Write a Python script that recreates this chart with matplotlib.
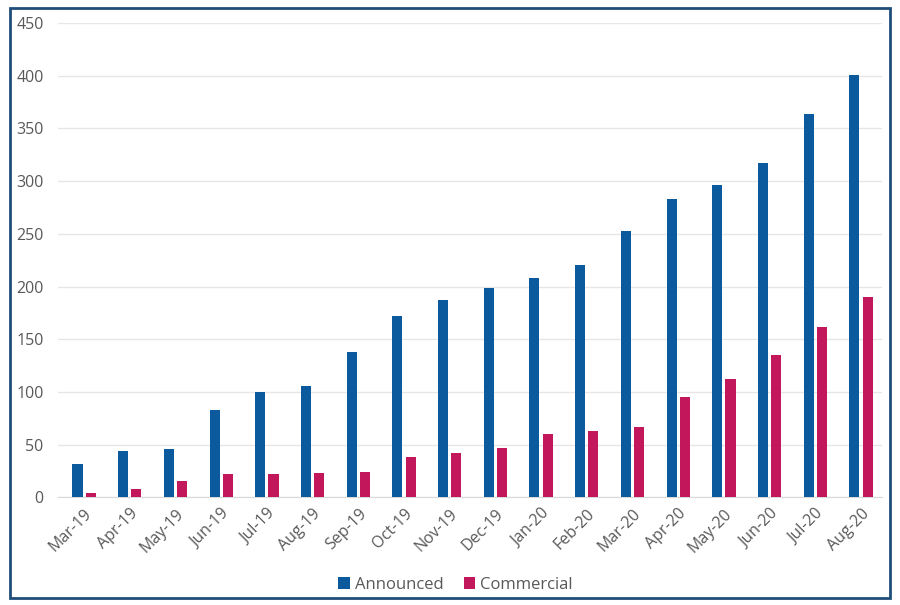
import matplotlib.pyplot as plt
import numpy as np
from matplotlib.patches import Rectangle

months = ["Mar-19", "Apr-19", "May-19", "Jun-19", "Jul-19", "Aug-19",
          "Sep-19", "Oct-19", "Nov-19", "Dec-19", "Jan-20", "Feb-20",
          "Mar-20", "Apr-20", "May-20", "Jun-20", "Jul-20", "Aug-20"]
announced = [32, 44, 46, 83, 100, 106, 138, 172, 187, 199, 208, 220,
             253, 283, 296, 317, 364, 401]
commercial = [4, 8, 15, 22, 22, 23, 24, 38, 42, 47, 60, 63,
              67, 95, 112, 135, 162, 190]

plt.rcParams['font.family'] = ['Open Sans', 'DejaVu Sans']
text_color = '#595959'

fig = plt.figure(figsize=(9, 6.05), dpi=100)
ax = fig.add_axes([0.064, 0.178, 0.916, 0.784])

x = np.arange(len(months))
w = 0.22
gap = 0.07
ax.bar(x - (w + gap) / 2, announced, width=w, color='#0b5a9e',
       label='Announced', zorder=3)
ax.bar(x + (w + gap) / 2, commercial, width=w, color='#c2185b',
       label='Commercial', zorder=3)

ax.set_xlim(-0.58, len(months) - 0.54)
ax.set_ylim(0, 450)
ax.set_yticks(range(0, 451, 50))
ax.yaxis.grid(True, color='#e6e6e6', linewidth=1, zorder=0)
ax.set_axisbelow(True)
for s in ['top', 'right', 'left']:
    ax.spines[s].set_visible(False)
ax.spines['bottom'].set_color('#d9d9d9')
ax.tick_params(axis='both', length=0, colors=text_color, labelsize=11.5)
ax.tick_params(axis='y', pad=10)
ax.tick_params(axis='x', pad=6)
ax.set_xticks(x)
ax.set_xticklabels(months, rotation=45, ha='right', rotation_mode='anchor')

leg = ax.legend(loc='center', bbox_to_anchor=(0.483, -0.185), ncol=2,
                frameon=False, fontsize=12, handlelength=0.7,
                handleheight=0.7, handletextpad=0.3, columnspacing=1.2)
for t in leg.get_texts():
    t.set_color(text_color)

fig.patches.append(Rectangle((0.011, 0.012), 0.978, 0.974,
                             transform=fig.transFigure, fill=False,
                             edgecolor='#1f4e79', linewidth=2))

fig.savefig('out.png', dpi=100)
